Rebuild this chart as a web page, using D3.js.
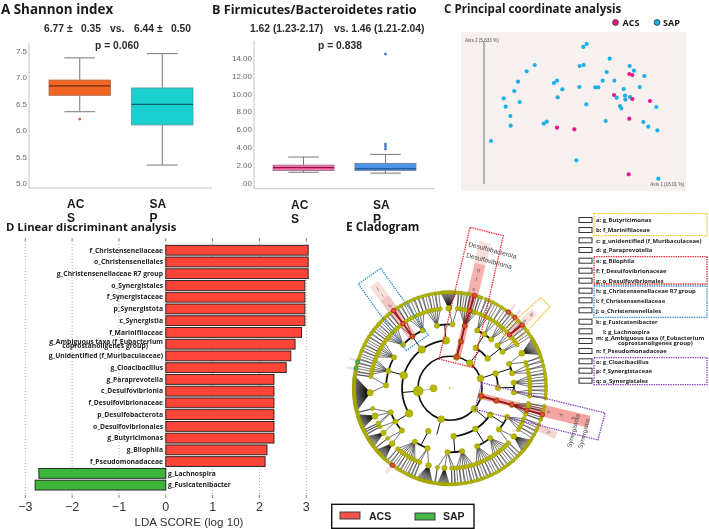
<!DOCTYPE html>
<html><head><meta charset="utf-8">
<script src="https://d3js.org/d3.v7.min.js"></script>
<style>html,body{margin:0;padding:0;background:#fff}svg{display:block;filter:blur(.3px)}
text{font-family:"Liberation Sans",Arial,sans-serif}
.ttl{font-family:"Open Sans",sans-serif;font-weight:700;font-size:11.6px;fill:#1a1a1a}
.hd{font-weight:700;font-size:10.3px;fill:#2a2a2a}
.cat{font-weight:700;font-size:12px;fill:#1a1a1a}
.tx{font-family:"Open Sans",sans-serif;font-weight:700;font-size:6.75px;fill:#222}
.kx{font-family:"Open Sans",sans-serif;font-weight:700;font-size:5.9px;fill:#222}
</style></head><body><svg id="c" width="709" height="529"></svg>
<script>
// ---------- Panel A / B data ----------
const groups = ["ACS","SAP"];
const shannonTicks = [5,5.5,6,6.5,7,7.5];
const shannonACS = {lo:6.35,q1:6.66,med:6.84,q3:6.95,hi:7.37,out:[6.21]};
const shannonSAP = {lo:5.34,q1:6.10,med:6.49,q3:6.80,hi:7.45,out:[]};
const ratioTicks = [0,2,4,6,8,10,12,14];
const ratioTickLabels = [".00","2.00","4.00","6.00","8.00","10.00","12.00","14.00"];
const ratioACS = {lo:1.2,q1:1.4,med:1.72,q3:2.0,hi:2.9,out:[]};
const ratioSAP = {lo:1.1,q1:1.4,med:1.6,q3:2.2,hi:3.2,out:[3.8,4.1,4.35,14.4]};
// ---------- Panel C data (axis scores) ----------
const pcoaSAPx = [-.247,-.209,-.203,-.189,-.188,-.177,-.166,-.161,-.14,-.116,-.089,-.08,-.058,-.049,-.047,-.033,.009,.018,.019,.031,.03,.04,.039,.066,.075,.088,.097,.1,.109,.123,.13,.14,.144,.151,.155,.156,.169,.17,.182,.199,.21,.213,.225,.249,.252,.255];
const pcoaSAPy = [-.093,.035,.01,-.018,-.047,.057,.085,.024,.116,.135,-.041,-.035,.081,.088,.038,.062,-.151,.069,.132,.135,.189,.198,.017,.068,.068,.088,-.033,.114,.154,.088,.037,.012,.005,.063,.043,.031,.132,.039,.118,.069,-.036,.102,-.05,.009,-.061,-.206];
const pcoaACSx = [-.049,.003,.122,.166,.168,.168,.177,.177,.23];
const pcoaACSy = [-.053,-.058,.045,-.193,-.026,.108,.105,.033,.027];
// ---------- Panel D data ----------
const ldaLabels = ["f_Christensenellaceae","o_Christensenellales","g_Christensenellaceae R7 group","o_Synergistales","f_Synergistaceae","p_Synergistota","c_Synergistia","f_Marinifilaceae","g_Ambiguous taxa (f_Eubacterium|coprostanoligenes group)","g_Unidentified (f_Muribaculaceae)","g_Cloacibacillus","g_Paraprevotella","c_Desulfovibrionia","f_Desulfovibrionaceae","p_Desulfobacterota","o_Desulfovibrionales","g_Butyricimonas","g_Bilophila","f_Pseudomonadaceae","g_Lachnospira","g_Fusicatenibacter"];
const ldaValues = [3.04,3.04,3.04,2.97,2.97,2.97,2.97,2.90,2.76,2.67,2.57,2.31,2.31,2.31,2.31,2.31,2.31,2.16,2.12,-2.71,-2.79];
const ldaTicks = [-3,-2,-1,0,1,2,3];
// ---------- Panel E data: [phylum, class, startDeg, endDeg, genera per family] per order ----------
const orderRows = [
[0,0,6,20,[2,1,2,2,2,1,2,1]],
[1,0,21,29,[2,1,2,1]],[1,0,29,36,[1,2,1]],[1,0,36,44,[2,2,1,2]],[1,1,44,52,[2,3,2]],[1,1,52,58,[2,1,1]],
[2,0,58,72,[18,2]],[2,0,72,80,[2,2,1]],[2,1,80,90,[2,1,2,1,2]],[2,1,90,97,[2,1,2]],
[3,0,100,110,[2,1,2,3,1,2]],
[4,0,111,122,[2,1,2,2,1]],[4,0,122,134,[14,2]],[4,1,134,148,[2,1,2,1,2,2,1]],[4,1,148,162,[2,1,1,2,2,1,2]],[4,2,162,176,[2,1,2,1,2,2,1]],[4,2,176,190,[2,2,12,2]],
[5,0,190,205,[16,2,2]],[5,0,205,222,[2,1,1,2,2,1,1,2,2]],
[6,0,222,232,[16,2]],[6,0,232,242,[14,2]],[6,0,242,256,[2,2,20,2]],
[6,1,256,279,[50,2]],[6,1,279,292,[2,1,1,2,2,1,1]],[6,1,292,306,[2,1,2,1,1,2,2]],
[6,2,306,320,[2,1,1,2,1,1,2,2]],[6,2,320,328,[2,3,2]],[6,2,328,342,[2,1,2,1,2,2]],[6,3,342,354,[2,1,2,1,2,1]],[6,3,354,366,[18,2]]
];
const phylumDeg = [12,38,72,104,130,196,265];
const acsChains = [
 [[1,12],[2,13],[3,13],[4,13.5],[5,15]],
 [[1,104],[2,104.5],[3,105],[4,105],[5,105.6]],
 [[3,324],[4,324],[5,324]],
 [[4,47],[5,48.5]],[[5,38]],[[5,42]],[[5,217]]
];
const sapGenera = [[5,281.6],[5,286.6]];
const cladeKey = ["a: g_Butyricimonas","b: f_Marinifilaceae","c: g_unidentified (f_Muribaculaceae)","d: g_Paraprevotella","e: g_Bilophila","f: f_Desulfovibrionaceae","g: o_Desulfovibrionales","h: g_Christensenellaceae R7 group","i: f_Christensenellaceae","j: o_Christensenellales","k: g_Fusicatenibacter","l: g_Lachnospira","m: g_Ambiguous taxa (f_Eubacterium|coprostanoligenes group)","n: f_Pseudomonadaceae","o: g_Cloacibacillus","p: f_Synergistaceae","q: o_Synergistales"];

const svg = d3.select("#c");
const T=(g,x,y,s,cls,anc)=>g.append("text").attr("x",x).attr("y",y).text(s).attr("class",cls||null).attr("text-anchor",anc||"start");

// ---- Box plots ----
function boxPanel(o){
  const g=svg.append("g");
  const y=d3.scaleLinear().domain(o.dom).range(o.rng);
  const x=d3.scaleBand().domain(groups).range(o.xr).paddingInner(.2545).paddingOuter(0);
  g.append("path").attr("d",`M${o.ax},${o.top}V${o.base}H${o.end}`).attr("fill","none").attr("stroke","#c4c4c4").attr("stroke-width",1);
  o.ticks.forEach((t,i)=>T(g,o.ax-2,y(t)+3,o.labels[i],null,"end").attr("font-size",8).attr("fill","#666"));
  groups.forEach((k,i)=>{
    const b=o.data[i],xl=x(k),w=x.bandwidth(),cx=xl+w/2,cap=w*.25;
    g.append("path").attr("d",`M${cx},${y(b.hi)}V${y(b.q3)}M${cx},${y(b.q1)}V${y(b.lo)}M${cx-cap},${y(b.hi)}H${cx+cap}M${cx-cap},${y(b.lo)}H${cx+cap}`).attr("stroke","#777").attr("stroke-width",1).attr("fill","none");
    g.append("rect").attr("x",xl).attr("y",y(b.q3)).attr("width",w).attr("height",y(b.q1)-y(b.q3)).attr("fill",o.fill[i]).attr("stroke",o.edge[i]).attr("stroke-width",.8);
    g.append("line").attr("x1",xl).attr("x2",xl+w).attr("y1",y(b.med)).attr("y2",y(b.med)).attr("stroke",o.medc[i]).attr("stroke-width",1.1);
    b.out.forEach(v=>g.append("circle").attr("cx",cx).attr("cy",y(v)).attr("r",1.4).attr("fill",o.dot[i]));
    T(g,xl+18,o.base+20,k.slice(0,2),"cat");
    T(g,xl+18,o.base+34,k.slice(2),"cat");
  });
}
boxPanel({dom:[5,7.5],rng:[183,51],xr:[49,193],ax:29,top:43,base:188,end:212,ticks:shannonTicks,labels:shannonTicks.map(d=>d.toFixed(1)),data:[shannonACS,shannonSAP],fill:["#f26522","#19cfcf"],edge:["#a8704f","#4f9a9f"],medc:["#6b3012","#0c5f63"],dot:["#c8593a","#000"]});
boxPanel({dom:[0,14],rng:[183,57.7],xr:[273,416],ax:254,top:41,base:188.7,end:434,ticks:ratioTicks,labels:ratioTickLabels,data:[ratioACS,ratioSAP],fill:["#fb6fa9","#4c93e8"],edge:["#8b7580","#6c8096"],medc:["#8e1244","#174a85"],dot:["#000","#3f76b8"]});

const hdr=svg.append("g");
T(hdr,1,14,"A Shannon index","ttl").style("font-size","13.4px");
T(hdr,212,14,"B Firmicutes/Bacteroidetes ratio","ttl").style("font-size","12.6px");
T(hdr,444,13,"C Principal coordinate analysis","ttl");
T(hdr,44,32,"6.77 ±","hd");T(hdr,81,32,"0.35","hd");T(hdr,110,32,"vs.","hd");T(hdr,134,32,"6.44 ±","hd");T(hdr,171,32,"0.50","hd");
T(hdr,117,49,"p = 0.060","hd","middle");
T(hdr,250,32,"1.62 (1.23-2.17)","hd");T(hdr,334,32,"vs. 1.46 (1.21-2.04)","hd");
T(hdr,340,49,"p = 0.838","hd","middle");

// ---- PCoA ----
const pc=svg.append("g");
pc.append("rect").attr("x",461).attr("y",32).attr("width",225).attr("height",159).attr("fill","#f6f0ef");
const px=d3.scaleLinear().domain([-.337,.338]).range([461,686]);
const py=d3.scaleLinear().domain([.233,-.242]).range([32.3,190.7]);
pc.append("line").attr("x1",484).attr("x2",484).attr("y1",41).attr("y2",184).attr("stroke","#8a8a8a").attr("stroke-width",1.2);
T(pc,465,42,"Axis 2 (5.633 %)").attr("font-size",4.6).attr("fill","#555");
T(pc,684,186,"Axis 1 (16.01 %)",null,"end").attr("font-size",4.6).attr("fill","#555");
function dots(xs,ys,c){xs.forEach((v,i)=>pc.append("circle").attr("cx",px(v)).attr("cy",py(ys[i])).attr("r",2.1).attr("fill",c));}
dots(pcoaSAPx,pcoaSAPy,"#1cb0e6");dots(pcoaACSx,pcoaACSy,"#e6178c");
pc.append("circle").attr("cx",615.5).attr("cy",22.5).attr("r",2.9).attr("fill","#e6178c").attr("stroke","#333").attr("stroke-width",.8);
pc.append("circle").attr("cx",657).attr("cy",22.5).attr("r",2.9).attr("fill","#1cb0e6").attr("stroke","#333").attr("stroke-width",.8);
T(pc,622.5,26,"ACS","ttl").style("font-size","9px");
T(pc,663,26,"SAP","ttl").style("font-size","9px");

// ---- LDA ----
const ld=svg.append("g");
T(ld,6,231,"D Linear discriminant analysis","ttl").style("font-size","11.3px");
const lx=d3.scaleLinear().domain([-3,3]).range([25.3,306.3]);
const ly=d3.scaleBand().domain(d3.range(ldaValues.length)).range([243.4,491.9]).padding(.16);
ldaTicks.forEach(t=>{
  ld.append("line").attr("x1",lx(t)).attr("x2",lx(t)).attr("y1",241).attr("y2",495).attr("stroke","#777").attr("stroke-width",.6).attr("stroke-dasharray","1 2");
  ld.append("line").attr("x1",lx(t)).attr("x2",lx(t)).attr("y1",238).attr("y2",241).attr("stroke","#666").attr("stroke-width",.8);
  ld.append("line").attr("x1",lx(t)).attr("x2",lx(t)).attr("y1",495).attr("y2",498).attr("stroke","#666").attr("stroke-width",.8);
  T(ld,lx(t),511,String(t).replace("-","−"),null,"middle").attr("font-family","DejaVu Sans").attr("font-size",12.5).attr("fill","#333");
});
T(ld,189,526,"LDA SCORE (log 10)",null,"middle").attr("font-family","DejaVu Sans").attr("font-size",11.6).attr("fill","#333");
ldaValues.forEach((v,i)=>{
  ld.append("rect").attr("x",Math.min(lx(0),lx(v))).attr("y",ly(i)).attr("width",Math.abs(lx(v)-lx(0))).attr("height",ly.bandwidth())
    .attr("fill",v>0?"#ff4438":"#3db53d").attr("stroke","#1c1c1c").attr("stroke-width",.9);
  const parts=ldaLabels[i].split("|"),cy=ly(i)+ly.bandwidth()/2+2.3;
  if(v>0){
    if(parts.length>1){T(ld,163,cy-2.6,parts[0],"tx","end");T(ld,148,cy+2,parts[1],"tx","end");}
    else T(ld,163,cy,parts[0],"tx","end");
  } else T(ld,168,cy,parts[0],"tx");
});

// ---- Cladogram ----
const cl=svg.append("g");
T(cl,346,231,"E Cladogram","ttl").style("font-size","11.8px");
const CX=450,CY=388.3;
const radii=[0,32,48,64,80,96];
const ringR=d3.scaleOrdinal().domain([0,1,2,3,4,5]).range(radii);
const plate=cl.append("g").attr("transform",`translate(${CX},${CY})`);
const rad=d=>d*Math.PI/180;
const P=(deg,lv)=>d3.pointRadial(rad(deg),ringR(lv));
// layout from the rows
const nodes=[],links=[],arcs=[];
const classMap=d3.group(orderRows.map((r,i)=>({r,i})),d=>d.r[0],d=>d.r[1]);
const clusterOf=(row)=>{
  const h=d3.hierarchy({children:row[4].map(n=>({children:d3.range(n).map(()=>({}))}))});
  d3.cluster().size([row[3]-row[2],1])(h);
  return h;
};
classMap.forEach((classes,p)=>{
  const pa=phylumDeg[p];nodes.push({lv:1,a:pa,s:p===6?5:3.4});
  const clsA=[];
  classes.forEach((ords,c)=>{
    const oa=[];
    ords.forEach(({r})=>{
      const h=clusterOf(r),a=r[2]+h.x;oa.push(a);
      nodes.push({lv:3,a,s:2.7});
      h.children.forEach(f=>{
        const fA=r[2]+f.x;nodes.push({lv:4,a:fA,s:Math.min(2+.06*f.children.length,3.2)});
        links.push({a0:a,l0:3,a1:fA,l1:4,w:.6});
        f.children.forEach(g=>{const gA=r[2]+g.x;nodes.push({lv:5,a:gA,s:1.65});links.push({a0:fA,l0:4,a1:gA,l1:5,w:.55});});
      });
    });
    const ca=d3.mean(oa);clsA.push(ca);nodes.push({lv:2,a:ca,s:p===6?3.8:2.9});
    if(oa.length>1)arcs.push({lv:3,a0:d3.min(oa),a1:d3.max(oa),w:1.7});
    links.push({a0:ca,l0:2,a1:ca,l1:3,w:1});
  });
  if(clsA.length>1)arcs.push({lv:2,a0:Math.min(pa,d3.min(clsA)),a1:Math.max(pa,d3.max(clsA)),w:1.8});
  links.push({a0:pa,l0:1,a1:pa,l1:2,w:1});
});
arcs.push({lv:1,a0:0,a1:360,w:1.6});
const nearest=(lv,deg)=>d3.least(nodes.filter(n=>n.lv===lv),n=>Math.abs(n.a-deg));

function band(deg,r0,r1,w,col,op){plate.append("rect").attr("transform",`rotate(${deg})`).attr("x",-w/2).attr("y",-r1).attr("width",w).attr("height",r1-r0).attr("fill",col).attr("opacity",op);}
band(13.6,32,96,6,"#ef6f68",.65);band(13.6,96,128,11,"#f4a9a5",.9);band(13.6,128,150,12,"#f9dcd9",.9);
band(104,32,96,6,"#ef6f68",.65);band(103.5,96,143,12,"#f4a09a",.95);
band(114,96,116,7,"#f5d0cc",.95);
band(-36,64,97,9,"#f3a4a0",.7);band(-36,97,112,10,"#f3c0bc",.9);band(-36,112,129,10,"#f8d9d6",.9);
band(48,80,97,7,"#f3b0ac",.8);band(48,97,114,8,"#f8dad7",.9);
[[38,96,106],[42,96,105],[217,96,106],[281.6,96,105],[286.6,96,105]].forEach(b=>band(b[0],b[1],b[2],2.6,"#eddcda",.9));

links.forEach(l=>{const p=P(l.a0,l.l0),q=P(l.a1,l.l1);plate.append("line").attr("x1",p[0]).attr("y1",p[1]).attr("x2",q[0]).attr("y2",q[1]).attr("stroke","#111").attr("stroke-width",l.w);});
const arcGen=d3.arc();
arcs.forEach(a=>plate.append("path").attr("d",arcGen({innerRadius:ringR(a.lv),outerRadius:ringR(a.lv),startAngle:rad(a.a0),endAngle:rad(a.a1)})).attr("fill","none").attr("stroke","#111").attr("stroke-width",a.w));
plate.append("line").attr("x1",-16).attr("y1",0).attr("x2",-32).attr("y2",3).attr("stroke","#999").attr("stroke-width",.8);
plate.append("circle").attr("cx",-16.5).attr("cy",0).attr("r",3.6).attr("fill","#b6b800").attr("stroke","#9a9a00").attr("stroke-width",.4);
plate.append("circle").attr("cx",-.5).attr("cy",-.5).attr("r",.9).attr("fill","#b6b800");
nodes.slice().sort((a,b)=>b.lv-a.lv).forEach(n=>{const p=P(n.a,n.lv);plate.append("circle").attr("cx",p[0]).attr("cy",p[1]).attr("r",n.s).attr("fill","#b6b800").attr("stroke","#8d8d05").attr("stroke-width",.4);});
acsChains.forEach(ch=>{
  const ns=ch.map(c=>nearest(c[0],c[1]));
  const pts=ns.map(n=>P(n.a,n.lv));
  if(pts.length>1)plate.append("path").attr("d",d3.line()(pts)).attr("fill","none").attr("stroke","#a01818").attr("stroke-width",1.8);
  pts.forEach(p=>plate.append("circle").attr("cx",p[0]).attr("cy",p[1]).attr("r",2.3).attr("fill","#f2493f").attr("stroke","#7a1a15").attr("stroke-width",.6));
});
sapGenera.forEach(c=>{const n=nearest(c[0],c[1]),p=P(n.a,n.lv);plate.append("circle").attr("cx",p[0]).attr("cy",p[1]).attr("r",2.2).attr("fill","#46b546").attr("stroke","#2f6f2f").attr("stroke-width",.5);});
function letter(deg,r,s){const p=d3.pointRadial(rad(deg),r);plate.append("text").attr("transform",`translate(${p[0]},${p[1]}) rotate(${deg})`).attr("text-anchor","middle").attr("dy",1.7).attr("font-size",5).attr("fill","#555").text(s);}
[[13.6,102,"e"],[13.6,112,"f"],[13.6,122,"g"],[103.5,102,"o"],[103.5,115,"p"],[103.5,127,"q"],[114,108,"n"],[-36,102,"h"],[-36,115,"i"],[-36,124,"j"],[48,101,"a"],[48,110,"b"]].forEach(d=>letter(d[0],d[1],d[2]));
cl.append("text").attr("transform","translate(468,246) rotate(15)").attr("font-size",6.6).attr("fill","#444").text("Desulfobacterota");
cl.append("text").attr("transform","translate(466,257) rotate(15)").attr("font-size",6.6).attr("fill","#444").text("Desulfovibrionia");
cl.append("text").attr("transform","translate(571,448) rotate(-75)").attr("font-size",6.2).attr("fill","#444").text("Synergistota");
cl.append("text").attr("transform","translate(582,449) rotate(-75)").attr("font-size",6.2).attr("fill","#444").text("Synergistia");
const dotted=(pts,c)=>cl.append("polygon").attr("points",pts.map(p=>p.join(",")).join(" ")).attr("fill","none").attr("stroke",c).attr("stroke-width",1.3).attr("stroke-dasharray","1.4 1");
dotted([[470,227.3],[503.3,235.7],[473.3,367.7],[439,359]],"#f0202c");
dotted([[380.7,268.3],[428.3,335],[406,350.7],[358.3,284]],"#2a8fd8");
dotted([[540.7,297.7],[550,306.7],[515,344.3],[501.7,332.7]],"#f5b428");
dotted([[481.7,382.7],[605,413],[598,440],[475,409.3]],"#8a3fc8");
// key
const kg=svg.append("g");
const keyY=[220,230,240.3,250,260.7,270.7,280.7,290.7,300.3,310.3,321.7,331.3,341,351,361.3,370.7,380.7];
cladeKey.forEach((s,i)=>{
  kg.append("rect").attr("x",579).attr("y",keyY[i]-2.5).attr("width",13).attr("height",5).attr("fill","#fff").attr("stroke","#333").attr("stroke-width",1);
  const parts=s.split("|");
  if(parts.length>1){T(kg,596,keyY[i]-.6,parts[0],"kx");T(kg,618,keyY[i]+4,parts[1],"kx");}
  else T(kg,i===11?603:596,keyY[i]+2.2,parts[0],"kx");
});
[[594,213.7,113,22,"#f5c518"],[594,256.7,113,27.3,"#f0202c"],[594,286,113,31.3,"#2a8fd8"],[594,357.7,113,27,"#8a3fc8"]].forEach(b=>kg.append("rect").attr("x",b[0]).attr("y",b[1]).attr("width",b[2]).attr("height",b[3]).attr("fill","none").attr("stroke",b[4]).attr("stroke-width",1.3).attr("stroke-dasharray","1.4 1"));
// bottom legend
const lg=svg.append("g");
lg.append("rect").attr("x",331.7).attr("y",504.3).attr("width",142.3).attr("height",24).attr("fill","#fff").attr("stroke","#111").attr("stroke-width",1.4);
lg.append("rect").attr("x",340).attr("y",512).attr("width",20).attr("height",7).attr("fill","#f2544c").attr("stroke","#333").attr("stroke-width",.9);
lg.append("rect").attr("x",415).attr("y",513).attr("width",20).attr("height",7).attr("fill","#46b546").attr("stroke","#333").attr("stroke-width",.9);
T(lg,369,520,"ACS").attr("font-weight",700).attr("font-size",10.5).attr("fill","#222");
T(lg,443,520,"SAP").attr("font-weight",700).attr("font-size",10.5).attr("fill","#222");
</script></body></html>
